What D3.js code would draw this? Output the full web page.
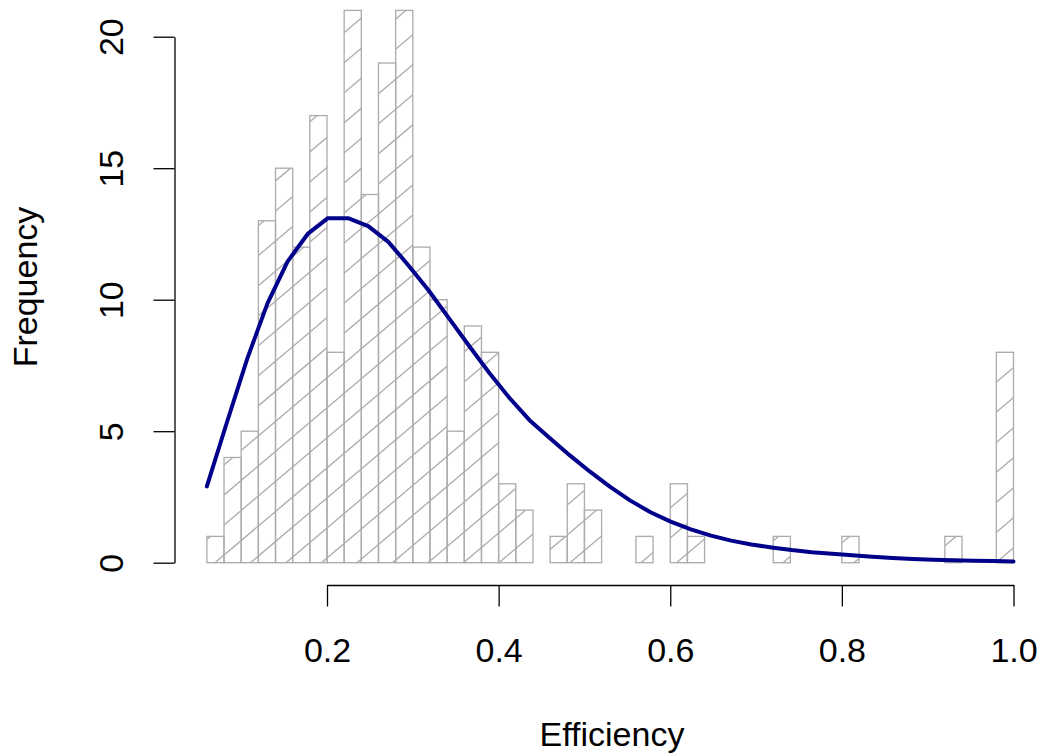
<!DOCTYPE html>
<html>
<head>
<meta charset="utf-8">
<script src="https://cdn.jsdelivr.net/npm/d3@7"></script>
<style>
  body { margin: 0; background: #fff; }
  text { font-family: "Liberation Sans", Arial, Helvetica, sans-serif; }
</style>
</head>
<body>
<svg id="chart" width="1042" height="755"></svg>
<script>
// histogram bins (lower edge, width 0.02) and counts
const binStarts = [0.06, 0.08, 0.10, 0.12, 0.14, 0.16, 0.18, 0.20, 0.22, 0.24,
                   0.26, 0.28, 0.30, 0.32, 0.34, 0.36, 0.38, 0.40, 0.42, 0.44,
                   0.46, 0.48, 0.50, 0.52, 0.54, 0.56, 0.58, 0.60, 0.62, 0.64,
                   0.66, 0.68, 0.70, 0.72, 0.74, 0.76, 0.78, 0.80, 0.82, 0.84,
                   0.86, 0.88, 0.90, 0.92, 0.94, 0.96, 0.98];
const counts = [1, 4, 5, 13, 15, 12, 17, 8, 21, 14,
                19, 21, 12, 10, 5, 9, 8, 3, 2, 0,
                1, 3, 2, 0, 0, 1, 0, 3, 1, 0,
                0, 0, 0, 1, 0, 0, 0, 1, 0, 0,
                0, 0, 0, 1, 0, 0, 8];
const binWidth = 0.02;

// fitted curve
const curveX = [0.060, 0.0835, 0.107, 0.1305, 0.154, 0.1775, 0.201, 0.2245, 0.248, 0.2715,
                0.295, 0.3185, 0.342, 0.3655, 0.389, 0.4125, 0.436, 0.4595, 0.483, 0.5065,
                0.530, 0.5535, 0.577, 0.6005, 0.624, 0.6475, 0.671, 0.6945, 0.718, 0.7415,
                0.765, 0.7885, 0.812, 0.8355, 0.859, 0.8825, 0.906, 0.9295, 0.953, 0.9765, 1.0];
const curveY = [2.9, 5.35, 7.75, 9.85, 11.45, 12.5, 13.1, 13.1, 12.8, 12.2,
                11.3, 10.35, 9.3, 8.25, 7.22, 6.27, 5.42, 4.74, 4.08, 3.46,
                2.88, 2.36, 1.92, 1.56, 1.27, 1.03, 0.84, 0.69, 0.58, 0.48,
                0.40, 0.34, 0.28, 0.23, 0.18, 0.14, 0.11, 0.09, 0.07, 0.06, 0.05];

const xTicks = [0.2, 0.4, 0.6, 0.8, 1.0];
const xTickLabels = ['0.2', '0.4', '0.6', '0.8', '1.0'];
const yTicks = [0, 5, 10, 15, 20];

const svg = d3.select('#chart');
const gray = '#adadad';
const fontSize = 34;

const x = d3.scaleLinear().domain([0.2, 1.0]).range([327, 1013.5]);
const y = d3.scaleLinear().domain([0, 20]).range([562.7, 36.7]);

const bars = binStarts.map((b, i) => ({x0: b, x1: b + binWidth, n: counts[i]}));

// clip path of the bars, used for the hatching
svg.append('defs').append('clipPath')
    .attr('id', 'barclip')
    .selectAll('rect')
    .data(bars.filter(d => d.n > 0))
    .enter()
    .append('rect')
    .attr('x', d => x(d.x0))
    .attr('y', d => y(d.n))
    .attr('width', d => x(d.x1) - x(d.x0))
    .attr('height', d => y(0) - y(d.n));

// hatch lines (about 40 degrees, like density shading in R)
const hatchSlope = 0.8465;
const hatchGap = 35.5;
const hatchOrigin = x(0.0695);
const hatch = svg.append('g').attr('clip-path', 'url(#barclip)');
for (let k = -25; k < 40; k++) {
    const cx = hatchOrigin + k * hatchGap;
    hatch.append('line')
        .attr('x1', cx - 800)
        .attr('y1', y(0) + 800 * hatchSlope)
        .attr('x2', cx + 800)
        .attr('y2', y(0) - 800 * hatchSlope)
        .attr('stroke', gray)
        .attr('stroke-width', 1.35);
}

// bar outlines
svg.append('g')
    .selectAll('rect')
    .data(bars)
    .enter()
    .append('rect')
    .attr('x', d => x(d.x0))
    .attr('y', d => y(d.n))
    .attr('width', d => x(d.x1) - x(d.x0))
    .attr('height', d => y(0) - y(d.n))
    .attr('fill', 'none')
    .attr('stroke', gray)
    .attr('stroke-width', 1.35);

// curve
const line = d3.line()
    .x((d, i) => x(curveX[i]))
    .y(d => y(d));
svg.append('path')
    .datum(curveY)
    .attr('d', line)
    .attr('fill', 'none')
    .attr('stroke', '#00008b')
    .attr('stroke-width', 4)
    .attr('stroke-linejoin', 'round')
    .attr('stroke-linecap', 'round');

// x axis
const xAxis = svg.append('g')
    .attr('transform', 'translate(0,585)')
    .call(d3.axisBottom(x).tickValues(xTicks).tickSize(21.5).tickSizeOuter(0)
        .tickFormat((d, i) => xTickLabels[i]));
xAxis.select('.domain').attr('stroke', '#000').attr('stroke-width', 1.3);
xAxis.selectAll('.tick line').attr('stroke', '#000').attr('stroke-width', 1.3);
xAxis.selectAll('.tick text')
    .attr('y', 76.7)
    .attr('dy', 0)
    .attr('fill', '#000')
    .style('font-size', fontSize + 'px')
    .style('font-family', '"Liberation Sans", Arial, sans-serif');

// y axis
const yAxis = svg.append('g')
    .attr('transform', 'translate(174.5,0)')
    .call(d3.axisLeft(y).tickValues(yTicks).tickSize(21).tickSizeOuter(0));
yAxis.select('.domain').attr('stroke', '#000').attr('stroke-width', 1.3);
yAxis.selectAll('.tick line').attr('stroke', '#000').attr('stroke-width', 1.3);
yAxis.selectAll('.tick text')
    .attr('x', 0)
    .attr('dy', 0)
    .attr('transform', 'translate(-52,0) rotate(-90)')
    .attr('text-anchor', 'middle')
    .attr('fill', '#000')
    .style('font-size', fontSize + 'px')
    .style('font-family', '"Liberation Sans", Arial, sans-serif');

// axis titles
svg.append('text')
    .attr('x', 612)
    .attr('y', 746)
    .attr('text-anchor', 'middle')
    .style('font-size', fontSize + 'px')
    .text('Efficiency');

svg.append('text')
    .attr('transform', 'translate(37,287) rotate(-90)')
    .attr('text-anchor', 'middle')
    .style('font-size', fontSize + 'px')
    .text('Frequency');
</script>
</body>
</html>
